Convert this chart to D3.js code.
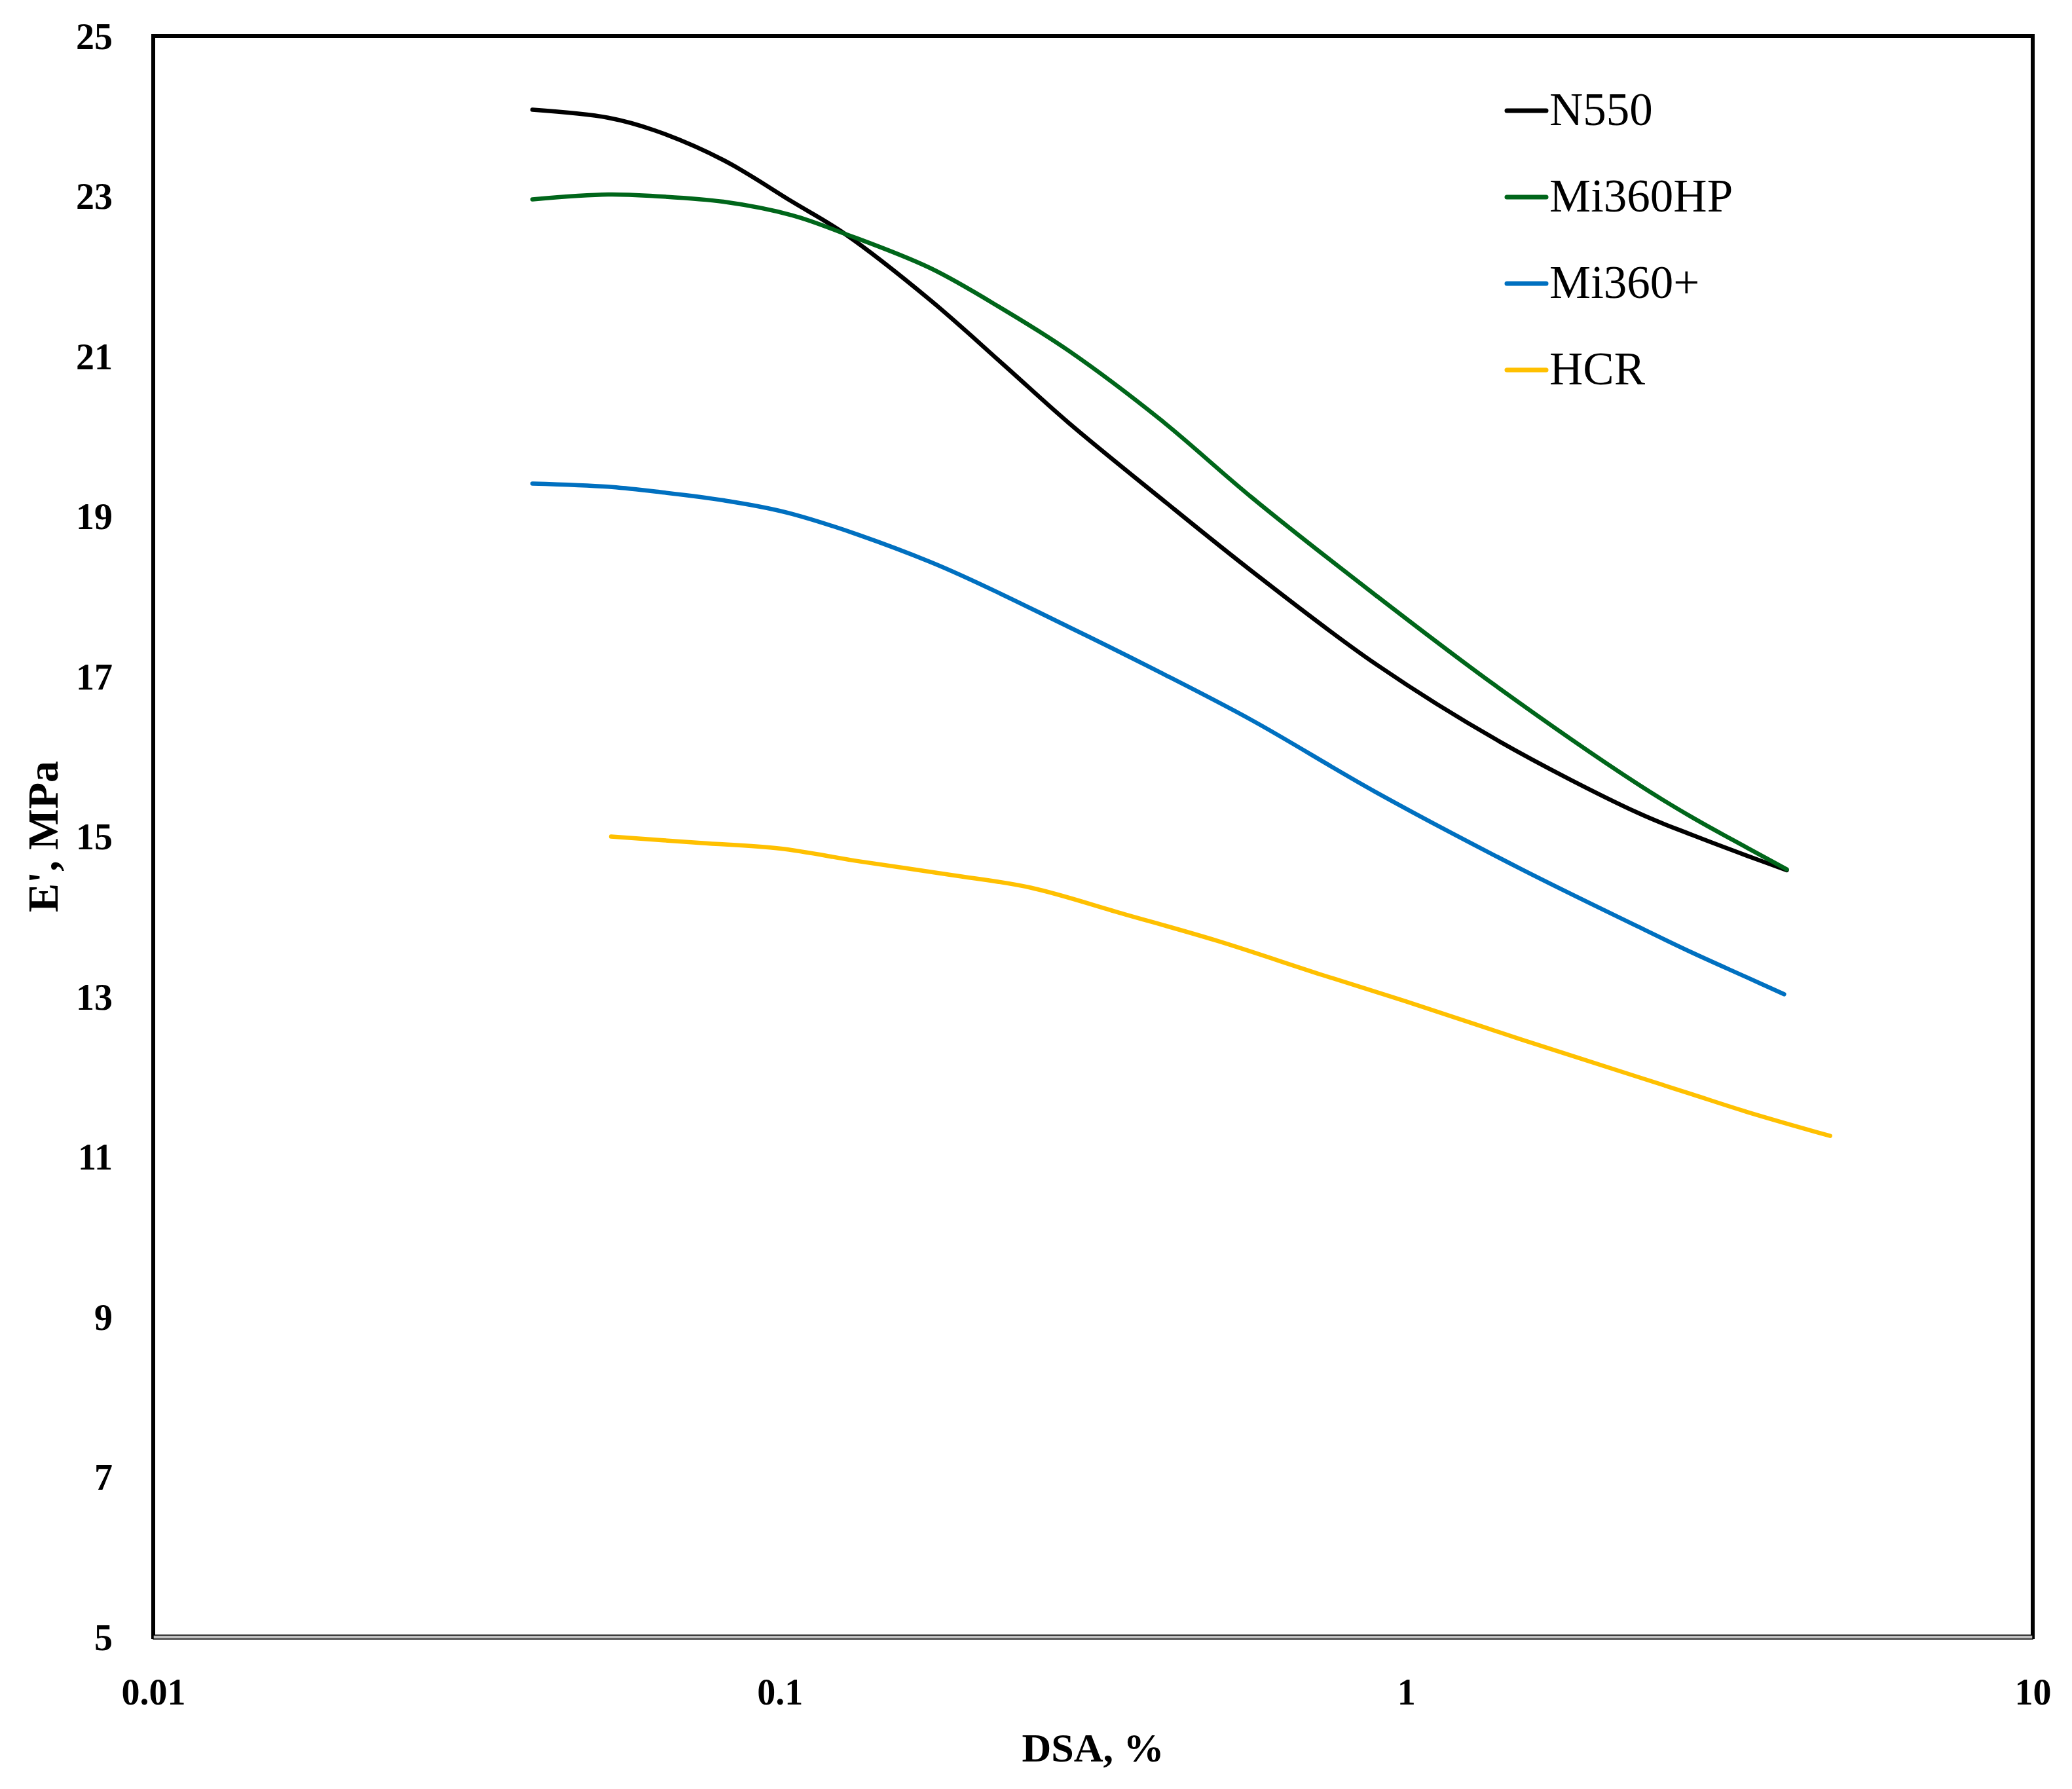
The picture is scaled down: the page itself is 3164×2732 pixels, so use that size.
<!DOCTYPE html>
<html>
<head>
<meta charset="utf-8">
<script src="https://cdn.jsdelivr.net/npm/d3@7"></script>
<style>
  html, body { margin: 0; padding: 0; background: #fff; }
  svg { display: block; }
</style>
</head>
<body>
<script>
// ---- data ----
const seriesNames = ["N550", "Mi360HP", "Mi360+", "HCR"];
const seriesColors = ["#000000", "#00661A", "#0070C0", "#FFC000"];

const xN550 = [0.0403,0.0532,0.0632,0.0813,0.1047,0.127,0.174,0.228,0.289,0.405,0.568,0.892,1.4,2.337,2.86,3.5,4.05];
const yN550 = [24.08,23.98,23.82,23.45,22.93,22.53,21.70,20.89,20.17,19.23,18.31,17.16,16.2,15.30,15.02,14.76,14.58];

const xMi360HP = [0.0403,0.0532,0.0632,0.0813,0.1047,0.127,0.174,0.228,0.289,0.405,0.568,0.892,1.38,2.337,2.86,3.5,4.05];
const yMi360HP = [22.96,23.02,23.00,22.93,22.76,22.53,22.10,21.58,21.07,20.21,19.23,18.02,16.9,15.66,15.24,14.86,14.59];

const xMi360plus = [0.0403,0.0532,0.0632,0.0813,0.1047,0.174,0.289,0.405,0.568,0.892,1.52,2.337,2.86,3.5,4.01];
const yMi360plus = [19.41,19.37,19.31,19.20,19.03,18.43,17.62,17.05,16.45,15.56,14.6,13.88,13.55,13.24,13.03];

const xHCR = [0.0538,0.0748,0.1,0.134,0.188,0.252,0.355,0.498,0.735,1.0,1.52,2.337,2.86,3.5,4.75];
const yHCR = [15.0,14.92,14.85,14.69,14.52,14.36,14.03,13.70,13.27,12.94,12.47,12.0,11.78,11.56,11.26];

const xTickValues = [0.01, 0.1, 1, 10];
const xTickLabels = ["0.01", "0.1", "1", "10"];
const yTickValues = [5, 7, 9, 11, 13, 15, 17, 19, 21, 23, 25];
const xTitle = "DSA, %";
const yTitle = "E', MPa";

// ---- layout ----
const W = 3164, H = 2732;
const L = 234, R = 3104, T = 55, B = 2500;
const font = "'Liberation Serif', 'Times New Roman', serif";

const svg = d3.select("body").append("svg")
  .attr("width", W).attr("height", H)
  .style("background", "#fff");

const x = d3.scaleLog().domain([0.01, 10]).range([L, R]);
const y = d3.scaleLinear().domain([5, 25]).range([B, T]);

// frame
svg.append("rect")
  .attr("x", L).attr("y", T).attr("width", R - L).attr("height", B - T)
  .attr("fill", "none").attr("stroke", "#000").attr("stroke-width", 6);
// bottom axis line (gray with black outline)
svg.append("rect")
  .attr("x", L).attr("y", B - 3).attr("width", R - L).attr("height", 6)
  .attr("fill", "#c0c0c0").attr("stroke", "#000").attr("stroke-width", 1.5);

// y axis
const yAxis = svg.append("g")
  .attr("transform", `translate(${L},0)`)
  .call(d3.axisLeft(y).tickValues(yTickValues).tickSize(0).tickPadding(62).tickFormat(d3.format("d")));
yAxis.select(".domain").remove();
yAxis.selectAll("text")
  .attr("font-family", font).attr("font-size", 56).attr("font-weight", "bold")
  .attr("fill", "#000").attr("dy", "0.34em");

// x axis
const xAxis = svg.append("g")
  .attr("transform", `translate(0,${B})`)
  .call(d3.axisBottom(x).tickValues(xTickValues).tickSize(0).tickPadding(0)
    .tickFormat((d, i) => xTickLabels[i]));
xAxis.select(".domain").remove();
xAxis.selectAll("text")
  .attr("font-family", font).attr("font-size", 56).attr("font-weight", "bold")
  .attr("fill", "#000").attr("y", 103).attr("dy", 0);

// axis titles
svg.append("text")
  .attr("x", (L + R) / 2).attr("y", 2690)
  .attr("text-anchor", "middle")
  .attr("font-family", font).attr("font-size", 62).attr("font-weight", "bold")
  .text(xTitle);
svg.append("text")
  .attr("transform", `translate(88,${(T + B) / 2}) rotate(-90)`)
  .attr("text-anchor", "middle")
  .attr("font-family", font).attr("font-size", 66).attr("font-weight", "bold")
  .text(yTitle);

// series
const xs = [xN550, xMi360HP, xMi360plus, xHCR];
const ys = [yN550, yMi360HP, yMi360plus, yHCR];
const line = d3.line()
  .x(d => x(d[0])).y(d => y(d[1]))
  .curve(d3.curveCatmullRom.alpha(0.5));

seriesNames.forEach((name, i) => {
  const pts = xs[i].map((v, j) => [v, ys[i][j]]);
  svg.append("path")
    .datum(pts)
    .attr("d", line)
    .attr("fill", "none")
    .attr("stroke", seriesColors[i])
    .attr("stroke-width", 6.5)
    .attr("stroke-linecap", "round")
    .attr("stroke-linejoin", "round");
});

// legend
const legY0 = 169, legDY = 132;
seriesNames.forEach((name, i) => {
  const ly = legY0 + i * legDY;
  svg.append("line")
    .attr("x1", 2301).attr("x2", 2361).attr("y1", ly).attr("y2", ly)
    .attr("stroke", seriesColors[i]).attr("stroke-width", 7)
    .attr("stroke-linecap", "round");
  svg.append("text")
    .attr("x", 2366).attr("y", ly + 22)
    .attr("font-family", font).attr("font-size", 71)
    .attr("fill", "#000")
    .text(name);
});
</script>
</body>
</html>
